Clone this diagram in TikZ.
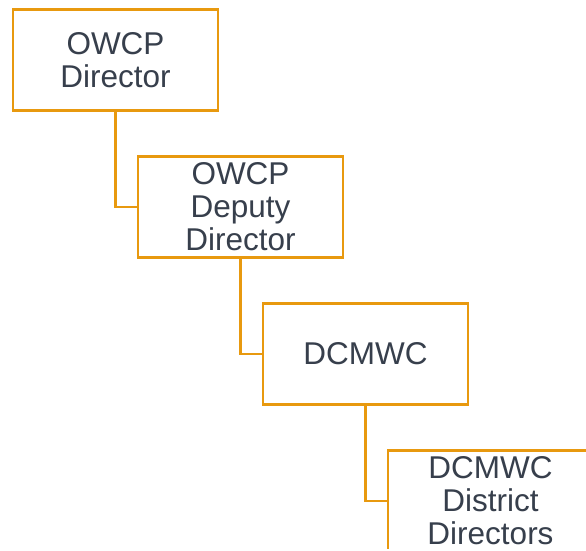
\documentclass[tikz,border=0pt]{standalone}
\usepackage{fontspec}
\setmainfont{Liberation Sans}
\usepackage{tikz}
\definecolor{boxorange}{HTML}{E8990F}
\definecolor{boxtext}{HTML}{373F4C}
\newcommand{\boxW}{205pt}
\newcommand{\boxH}{101pt}
\newcommand{\stepX}{125}
\newcommand{\stepY}{147}

\begin{document}
\begin{tikzpicture}[x=1pt,y=-1pt,
    orgbox/.style={draw=boxorange,line width=2.4pt,fill=white,
        minimum width=\boxW,minimum height=\boxH,align=center,
        text=boxtext,font=\fontsize{31.5}{33}\selectfont},
    link/.style={draw=boxorange,line width=2.4pt}]

        % Fix the picture size and cut the last box
        \useasboundingbox (0,0) rectangle (586,550);
        \clip (0,0) rectangle (586,548.5);

        % Draw the boxes, one step down and right each
        \node[orgbox] (director) at (115.5,60) {OWCP\\Director};
        \node[orgbox] (deputy) at (115.5+\stepX,60+\stepY) {OWCP\\Deputy\\Director};
        \node[orgbox] (dcmwc) at (115.5+2*\stepX,60+2*\stepY) {DCMWC};
        \node[orgbox] (district) at (115.5+3*\stepX,60+3*\stepY) {DCMWC\\District\\Directors};

        % Elbow lines from each box to the next
        \draw[link] (director.south) |- (deputy.west);
        \draw[link] (deputy.south) |- (dcmwc.west);
        \draw[link] (dcmwc.south) |- (district.west);
    \end{tikzpicture}
\end{document}
